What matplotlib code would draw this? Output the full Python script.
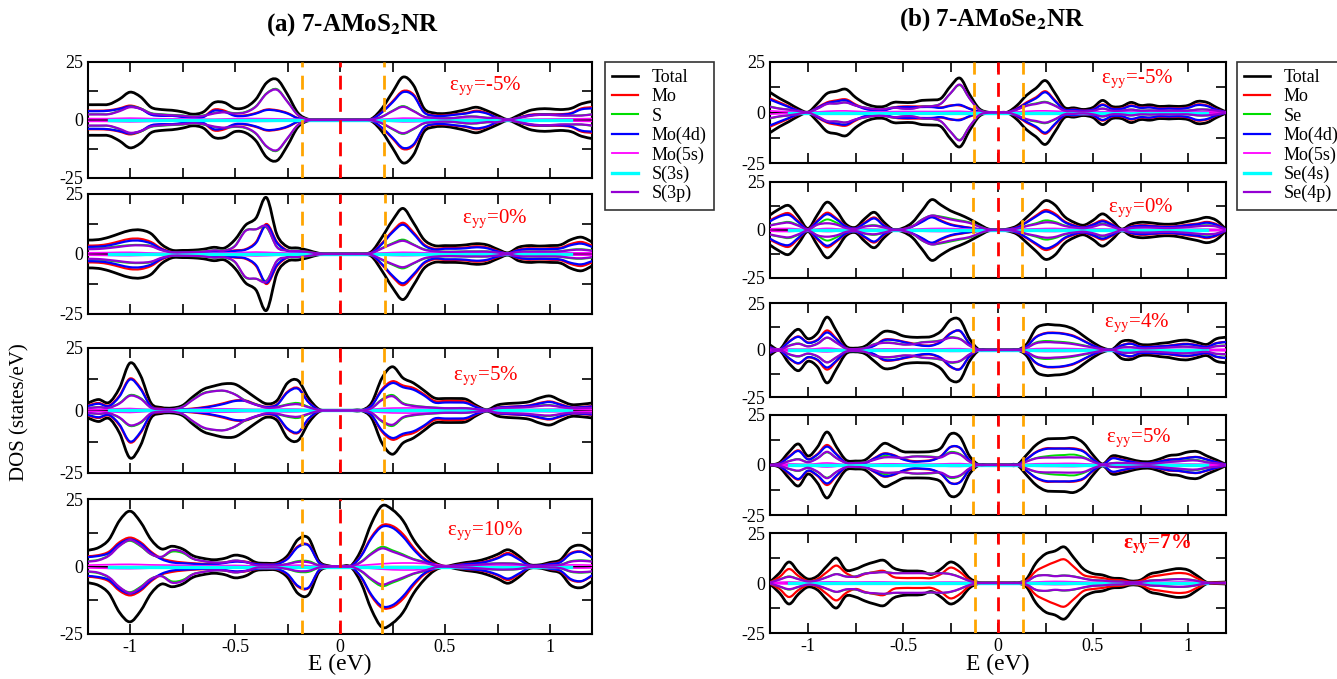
import numpy as np
import matplotlib
matplotlib.use("Agg")
import matplotlib.pyplot as plt
from matplotlib.lines import Line2D
from matplotlib.path import Path
from matplotlib.patches import PathPatch

plt.rcParams['font.family'] = ['Liberation Serif', 'DejaVu Serif']
plt.rcParams['mathtext.fontset'] = 'stix'

# energy grid (eV) of the read-off values, 0.05 eV steps
energy = np.linspace(-1.2, 1.2, 49)
# coarser grid for the small Mo(5s) curve
energy_c = np.linspace(-1.2, 1.2, 25)

# ---------------- (a) 7-AMoS2NR ----------------
# eps_yy = -5%
a1_total = [6.6, 6.6, 6.8, 9, 12, 10, 5.5, 4.5, 4.2, 3.5,
            2.5, 3.5, 7.5, 7.5, 5, 5.5, 9, 16, 17.5, 11,
            3, 0.3, 0, 0, 0, 0, 0, 0.5, 5, 12,
            18.5, 15, 5, 3, 2.8, 3.5, 4.5, 5.5, 4, 2,
            0.2, 2, 4, 4.8, 4.8, 4.5, 5, 7, 8]
a1_mo = [4, 4, 4.2, 5, 6.2, 5, 2.5, 2, 2, 1.5,
         1, 1.5, 4.5, 4, 2, 2, 3, 4.5, 4.2, 3,
         0.8, 0.1, 0, 0, 0, 0, 0, 0.3, 3.5, 8,
         12.5, 11, 3.5, 2, 2, 2.5, 3, 4, 3, 1,
         0.1, 1, 2.2, 2.5, 2.5, 2.5, 3, 5, 5.5]
a1_mo4d = [3.8, 3.8, 4, 4.8, 5.8, 4.8, 2.3, 1.8, 1.8, 1.3,
           0.9, 1.3, 4, 3.5, 1.8, 1.8, 2.8, 4.3, 4, 2.8,
           0.7, 0.1, 0, 0, 0, 0, 0, 0.3, 3.3, 7.6,
           12, 10.5, 3.3, 1.8, 1.8, 2.3, 2.8, 3.6, 2.8, 0.9,
           0.1, 0.9, 2, 2.3, 2.3, 2.3, 2.8, 4.6, 5]
a1_s = [2.5, 2.5, 2.6, 4, 5.8, 5, 3, 2.5, 2.2, 2,
        1.5, 2, 3, 3.5, 3, 3.5, 6, 11.5, 13.3, 8,
        2.2, 0.2, 0, 0, 0, 0, 0, 0.2, 1.5, 4,
        6, 4, 1.5, 1, 0.8, 1, 1.5, 1.5, 1, 1,
        0.1, 1, 1.8, 2.3, 2.3, 2, 2, 2, 2.5]
a1_sp = [2.4, 2.4, 2.5, 3.8, 5.5, 4.8, 2.8, 2.3, 2, 1.8,
         1.4, 1.8, 2.8, 3.3, 2.8, 3.3, 5.8, 11.3, 13, 7.8,
         2.1, 0.2, 0, 0, 0, 0, 0, 0.2, 1.4, 3.8,
         5.7, 3.8, 1.4, 0.9, 0.7, 0.9, 1.4, 1.4, 0.9, 0.9,
         0.1, 0.9, 1.7, 2.2, 2.2, 1.9, 1.9, 1.9, 2.4]
a1_mo5s = [0.6, 0.6, 0.8, 0.6, 0.5, 0.4, 0.3, 0.6, 0.6, 0.5, 0.3, 0, 0,
           0, 0.3, 0.8, 0.6, 0.4, 0.3, 0.2, 0.2, 0.3, 0.4, 0.5, 0.6]

# eps_yy = 0%
a2_total = [5.8, 6, 7, 8.5, 9.8, 10, 8.5, 4, 1.6, 1.5,
            1.6, 2, 2.8, 2.5, 6, 12, 15, 23.5, 8, 3,
            2.5, 1.5, 0.3, 0, 0, 0, 0, 1, 7, 14,
            19, 13, 6, 3.5, 3.5, 3.5, 3.8, 4.3, 3.8, 2,
            0.5, 2.8, 3.5, 3.3, 3.5, 3.8, 6, 7, 5]
a2_mo = [3.5, 3.6, 4.2, 5.3, 6.3, 6.3, 5, 2.3, 0.8, 0.7,
         0.7, 0.9, 1.2, 1, 1.5, 2, 5, 12.5, 5, 1.5,
         1, 0.6, 0.1, 0, 0, 0, 0, 0.6, 4.5, 9.5,
         13, 9, 4, 2.2, 2.5, 2.5, 2.7, 3.2, 2.7, 1.3,
         0.3, 1.8, 2.4, 2.2, 2.4, 2.6, 4.2, 5, 3.5]
a2_mo4d = [3, 3.1, 3.6, 4.6, 5.5, 5.5, 4.4, 2, 0.7, 0.6,
           0.6, 0.8, 1, 0.9, 1.3, 1.8, 4.6, 12, 4.6, 1.3,
           0.9, 0.5, 0.1, 0, 0, 0, 0, 0.5, 4.2, 9,
           12.2, 8.4, 3.6, 1.9, 2.2, 2.2, 2.4, 2.8, 2.4, 1.1,
           0.3, 1.6, 2.1, 2, 2.1, 2.3, 3.7, 4.3, 3]
a2_s = [2.3, 2.4, 2.8, 3.3, 3.7, 3.8, 3.4, 1.7, 0.8, 0.8,
        0.9, 1.1, 1.6, 1.5, 3.5, 9.8, 10.3, 11, 3, 1.5,
        1.4, 0.9, 0.2, 0, 0, 0, 0, 0.4, 2.5, 4.5,
        6, 4, 2, 1.3, 1, 1, 1.1, 1.1, 1.1, 0.7,
        0.2, 1, 1.1, 1.1, 1.1, 1.2, 1.8, 2, 1.5]
a2_sp = [2, 2.1, 2.5, 3, 3.5, 3.6, 3.2, 1.6, 0.7, 0.7,
         0.8, 1, 1.5, 1.4, 3.3, 9.6, 10.3, 11.4, 2.8, 1.4,
         1.3, 0.8, 0.2, 0, 0, 0, 0, 0.4, 2.3, 4.2,
         5.5, 3.8, 1.8, 1.1, 0.9, 0.9, 1, 1, 1, 0.6,
         0.2, 0.9, 1, 1, 1, 1.1, 1.6, 1.8, 1.3]
a2_mo5s = [0.5, 0.6, 0.7, 0.4, 0.2, 0.2, 0.3, 0.5, 0.8, 0.5, 0.3, 0, 0,
           0, 0.4, 0.7, 0.5, 0.4, 0.4, 0.4, 0.2, 0.4, 0.4, 0.5, 0.5]

# eps_yy = 5%
a3_total = [3, 4.4, 3.2, 9, 19, 14, 3, 1.2, 1, 2,
            5.5, 8.5, 9.8, 10.7, 10.5, 8, 5, 2.7, 4, 11,
            12, 5, 0.5, 0, 0, 0, 0, 3, 13, 17.5,
            13, 11, 8, 5, 4.8, 4.8, 4.5, 2, 0.3, 2.2,
            2.8, 3, 3.5, 5, 5.8, 4, 2.4, 2.5, 3]
a3_mo = [2, 3, 2, 6, 12.8, 9, 1.8, 0.7, 0.5, 0.5,
         0.8, 1.3, 2, 3, 4, 4, 2.5, 1.5, 2.5, 7.5,
         9, 3.5, 0.3, 0, 0, 0, 0, 2, 8.5, 11.7,
         10, 9, 6.5, 3.8, 3.8, 3.8, 3.5, 1.5, 0.2, 1.2,
         1.5, 1.7, 2, 3, 3.6, 2.5, 1.3, 1.4, 1.8]
a3_mo4d = [1.8, 2.7, 1.8, 5.6, 12.4, 8.6, 1.6, 0.6, 0.4, 0.4,
           0.6, 1.1, 1.8, 2.7, 3.8, 3.8, 2.3, 1.4, 2.3, 7.2,
           8.7, 3.3, 0.3, 0, 0, 0, 0, 1.9, 8, 11,
           9.3, 8.3, 6, 3.2, 3.2, 3.2, 3, 1.3, 0.2, 1.1,
           1.4, 1.6, 1.9, 2.8, 3.4, 2.3, 1.2, 1.3, 1.6]
a3_s = [1, 1.4, 1.2, 3, 6.2, 5, 1.2, 0.5, 0.5, 1.5,
        4.5, 7, 7.8, 7.8, 6.5, 4, 2.5, 1.2, 1.5, 2.5,
        3, 1.5, 0.2, 0, 0, 0, 0, 1, 4.5, 6.2,
        3, 2, 1.5, 1.2, 1, 1, 1, 0.5, 0.1, 1,
        1.2, 1.3, 1.5, 2, 2.2, 1.5, 1, 1.1, 1.2]
a3_sp = [0.9, 1.3, 1.1, 2.8, 5.9, 4.7, 1.1, 0.5, 0.5, 1.4,
         4.3, 6.8, 7.7, 7.9, 6.4, 3.8, 2.3, 1.1, 1.3, 2.2,
         2.5, 1.3, 0.2, 0, 0, 0, 0, 0.9, 4.2, 5.7,
         2.7, 1.8, 1.4, 1.1, 0.9, 0.9, 0.9, 0.5, 0.1, 0.9,
         1.1, 1.2, 1.4, 1.8, 2, 1.4, 0.9, 1, 1.1]
a3_mo5s = [0.4, 0.5, 0.8, 0.3, 0.2, 0.5, 0.7, 0.6, 0.4, 0.5, 0.5, 0, 0,
           0, 0.8, 1, 1, 0.9, 0.6, 0.3, 0.4, 0.4, 0.5, 0.5, 0.4]

# eps_yy = 10%
a4_total = [6, 7, 10, 17, 20.5, 16.5, 10, 6.5, 7.5, 6.5,
            4, 3, 2.5, 3, 4.2, 3.5, 1.5, 1.2, 1.4, 4,
            10, 10.5, 2, 0.2, 0, 0.1, 6, 16, 22.5, 21,
            17, 10, 5, 1.5, 0.1, 0.8, 1.5, 2, 3, 4.5,
            6.2, 4, 0.8, 0.6, 1.5, 2.5, 7, 7.8, 5.5]
a4_mo = [3.8, 4.2, 5.5, 9, 10.7, 9, 5.5, 3, 2, 1.5,
         1.2, 1, 1, 1.5, 2, 1.8, 1, 0.8, 1, 3,
         7.5, 8, 1.5, 0.1, 0, 0.1, 4, 11, 15.3, 15,
         12, 7, 3, 1, 0.1, 0.5, 1, 1.3, 2, 3.3,
         5, 3, 0.5, 0.4, 1, 1.8, 5, 5.5, 3.5]
a4_mo4d = [3.5, 3.9, 5, 8.4, 10, 8.5, 5.1, 2.7, 1.5, 1.2,
           1, 0.8, 0.8, 1.3, 1.8, 1.6, 0.9, 0.7, 0.9, 2.8,
           7.2, 7.8, 1.4, 0.1, 0, 0.1, 3.8, 10.5, 14.7, 14.3,
           11, 6.3, 2.6, 0.8, 0.1, 0.4, 0.9, 1.2, 1.8, 3,
           4.5, 2.7, 0.5, 0.4, 0.9, 1.6, 4.7, 5.4, 3.3]
a4_s = [2, 2.5, 4.2, 7.8, 9.5, 7.5, 4.5, 3.5, 5.5, 5,
        2.8, 2, 1.5, 1.5, 2.2, 1.7, 0.5, 0.4, 0.4, 1,
        2, 2, 0.5, 0.1, 0, 0, 1.8, 5, 7.3, 6,
        4.5, 2.8, 1.8, 0.5, 0, 0.3, 0.5, 0.7, 1, 1.2,
        1.2, 1, 0.3, 0.2, 0.5, 0.7, 2, 2.3, 2]
a4_sp = [1.8, 2.3, 4, 7.6, 9.8, 7.8, 4.6, 3.6, 6, 5.4,
         2.9, 2, 1.5, 1.5, 2.2, 1.7, 0.5, 0.4, 0.4, 0.9,
         1.7, 1.6, 0.4, 0.1, 0, 0, 1.6, 4.6, 6.7, 5.5,
         4.1, 2.6, 1.6, 0.4, 0, 0.3, 0.4, 0.6, 0.9, 1.1,
         1.1, 0.9, 0.3, 0.2, 0.4, 0.6, 1.8, 2.1, 1.8]
a4_mo5s = [0.5, 0.7, 0.8, 0.6, 0.5, 0.3, 0.3, 0.4, 0.2, 0.2, 0.5, 0, 0,
           0.4, 1, 1.3, 1.1, 0.3, 0.3, 0.5, 0.5, 0.3, 0.3, 0.6, 0.5]

# ---------------- (b) 7-AMoSe2NR ----------------
# eps_yy = -5%
b1_total = [10, 7, 4.5, 1.8, 0.2, 4.5, 9.4, 10.5, 11.5, 7.5,
            4.5, 3, 3, 5, 5, 5, 6, 6.2, 7, 13,
            17, 9, 2, 0.1, 0, 0.2, 3.5, 8.5, 12, 15.8,
            9.5, 2.5, 2.3, 1.5, 2.5, 6, 3, 3, 5, 3.5,
            3.8, 3, 3.2, 3, 3.5, 5.5, 5, 2.5, 0.3]
b1_mo = [7, 5, 3, 1, 0.1, 2.5, 5, 6, 6.5, 4,
         2, 1.2, 1.2, 2.5, 3, 3, 3, 3, 2.5, 3.5,
         3.5, 2, 0.5, 0, 0, 0.1, 2, 5, 7.5, 10.5,
         6, 1.5, 1.5, 1, 1.5, 4, 2, 2, 3.5, 2.5,
         2.7, 2, 2.2, 2, 2.5, 4, 3.5, 1.5, 0.2]
b1_mo4d = [6.4, 4.5, 2.7, 0.9, 0.1, 2.3, 4.6, 5.5, 6, 3.6,
           1.8, 1.1, 1.1, 2.3, 2.7, 2.7, 2.7, 2.7, 2.3, 3.3,
           3.8, 1.8, 0.4, 0, 0, 0.1, 1.8, 4.6, 7, 10,
           5.6, 1.4, 1.4, 0.9, 1.4, 3.7, 1.8, 1.8, 3.2, 2.3,
           2.5, 1.8, 2, 1.8, 2.3, 3.7, 3.2, 1.4, 0.2]
b1_se = [3, 2, 1.5, 0.8, 0.1, 2, 4.4, 4.5, 5, 3.5,
         2.5, 1.8, 1.8, 2.5, 2, 2, 3, 3.2, 4.5, 9.5,
         13.5, 7, 1.5, 0.1, 0, 0.1, 1.5, 3.5, 4.5, 5.3,
         3.5, 1, 0.8, 0.5, 1, 2, 1, 1, 1.5, 1,
         1.1, 1, 1, 1, 1, 1.5, 1.5, 1, 0.1]
b1_sep = [2.8, 1.9, 1.4, 0.7, 0.1, 1.9, 4.2, 4.4, 4.9, 3.4,
          2.4, 1.7, 1.7, 2.4, 1.9, 1.9, 2.9, 3.1, 4.4, 9.5,
          13.8, 7, 1.4, 0.1, 0, 0.1, 1.4, 3.3, 4.2, 5,
          3.3, 0.9, 0.7, 0.5, 0.9, 1.9, 0.9, 0.9, 1.4, 0.9,
          1, 0.9, 0.9, 0.9, 0.9, 1.4, 1.4, 0.9, 0.1]
b1_mo5s = [0.8, 0.4, 0.1, 0.6, 0.8, 0.4, 0.4, 0.5, 0.5, 0.5, 0.6, 0.1, 0,
           0.3, 0.8, 0.7, 0.3, 0.4, 0.4, 0.4, 0.3, 0.3, 0.3, 0.4, 0.1]

# eps_yy = 0%
b2_total = [7.8, 11, 12.7, 7, 0.8, 8, 14.5, 10, 3, 1.4,
            6, 9.2, 4, 0.2, 1, 4, 10, 15.8, 13, 10,
            8, 5.7, 3, 0.5, 0, 0.5, 2.2, 6.5, 11, 15.3,
            13, 7, 4, 2.5, 5, 8.4, 5, 0.5, 3, 4,
            3.8, 3.2, 3, 3.5, 4.5, 5.5, 6.6, 5, 0.3]
b2_mo = [5, 7.5, 8.7, 4.5, 0.5, 5, 9, 6, 2, 0.9,
         4, 6.5, 2.5, 0.2, 0.5, 2, 4.5, 7, 5, 3,
         2, 1.2, 0.5, 0.2, 0, 0.3, 1.5, 4.2, 7.5, 10.4,
         8.5, 4.5, 2.5, 1.5, 3, 5, 3, 0.3, 1.8, 2.5,
         2.3, 1.9, 1.8, 2.1, 2.8, 3.3, 4.2, 3, 0.2]
b2_mo4d = [4.5, 7, 7.8, 4, 0.4, 4.5, 8.2, 5.5, 1.8, 0.8,
           3.6, 6, 2.2, 0.2, 0.4, 1.8, 4.2, 6.6, 4.6, 2.7,
           1.8, 1.1, 0.4, 0.2, 0, 0.3, 1.3, 3.9, 7, 9.6,
           7.8, 4.1, 2.2, 1.3, 2.7, 4.5, 2.7, 0.3, 1.6, 2.2,
           2, 1.7, 1.6, 1.9, 2.5, 3, 3.8, 2.7, 0.2]
b2_se = [2.5, 3.5, 4.2, 2.5, 0.3, 3, 5.5, 3.8, 1.2, 0.6,
         2, 2.5, 1.5, 0.1, 0.4, 2, 5.5, 7.5, 7, 6,
         5, 4, 2, 0.3, 0, 0.2, 0.8, 2.2, 3.5, 5,
         4.2, 2.4, 1.5, 1, 2, 3.3, 2, 0.2, 1.2, 1.5,
         1.5, 1.3, 1.2, 1.4, 1.7, 2.2, 2.5, 2, 0.1]
b2_sep = [2.3, 3.3, 3.8, 2.2, 0.3, 2.8, 3.5, 2.8, 1, 0.5,
          1.8, 2.2, 1.3, 0.1, 0.4, 1.9, 5.3, 7.5, 6.6, 5.5,
          4.6, 3.7, 1.8, 0.3, 0, 0.2, 0.7, 2, 3, 4,
          3.6, 2.1, 1.3, 0.9, 1.7, 2.9, 1.7, 0.2, 1, 1.3,
          1.3, 1.1, 1, 1.2, 1.5, 1.9, 2.2, 1.8, 0.1]
b2_mo5s = [0.6, 0.8, 0.1, 0.8, 0.3, 0.5, 0.2, 0.1, 0.6, 0.8, 0.6, 0.3, 0,
           0.3, 0.6, 0.8, 0.4, 0.5, 0.4, 0.3, 0.3, 0.3, 0.3, 0.4, 0.1]

# eps_yy = 4%
b3_total = [2.7, 0.3, 7, 11, 6, 9, 17.5, 10, 2, 1,
            2, 6, 9.8, 9.5, 7.5, 6.8, 6.8, 7.2, 10, 16,
            16, 6, 0.2, 0, 0, 0, 0, 3, 11.5, 13.5,
            13.3, 12.8, 11, 7.5, 4, 1.2, 0.3, 4.5, 5, 3,
            2.8, 3.5, 4, 5, 5.2, 4, 3, 6, 6.8]
b3_mo = [1.5, 0.2, 4.5, 7.2, 4, 5.5, 10.4, 6, 1, 0.4,
         0.8, 2.5, 5.5, 5.5, 4.5, 3.5, 2.5, 2.5, 4.5, 9,
         10, 3.5, 0.1, 0, 0, 0, 0, 2, 7, 9,
         9.2, 8.7, 7.5, 5, 2.5, 0.7, 0.2, 2.5, 3.5, 1.8,
         1.7, 2, 2.3, 3, 3.3, 2.5, 1.8, 3.7, 4.3]
b3_mo4d = [1.4, 0.2, 4.3, 7, 3.8, 5.2, 9.3, 5.6, 0.9, 0.4,
           0.7, 2.3, 5.2, 5.3, 4.3, 3.2, 2.3, 2.3, 4.2, 8.7,
           10.2, 3.3, 0.1, 0, 0, 0, 0, 1.9, 6.8, 8.8,
           9, 8.5, 7.2, 4.8, 2.4, 0.6, 0.2, 2.4, 3.3, 1.7,
           1.6, 1.9, 2.2, 2.8, 3.1, 2.4, 1.7, 3.6, 4.2]
b3_se = [1, 0.1, 2.4, 3.5, 2, 3.5, 6.5, 4, 0.9, 0.5,
         1.1, 3.2, 4, 3.8, 3, 3.2, 4.2, 4.5, 5.2, 6.8,
         6, 2.4, 0.1, 0, 0, 0, 0, 1.2, 4, 4.8,
         4.5, 4.2, 3.5, 2.5, 1.5, 0.4, 0.1, 1.4, 1.6, 1,
         1, 1.2, 1.5, 1.8, 1.8, 1.4, 1.1, 2.2, 2.4]
b3_sep = [0.9, 0.1, 2.2, 3.3, 1.9, 3.3, 6.6, 3.8, 0.8, 0.5,
          1, 3, 3.8, 3.6, 2.9, 3, 4, 4.3, 5, 6.5,
          5.8, 2.3, 0.1, 0, 0, 0, 0, 1.1, 3.6, 4.2,
          4, 3.7, 3.1, 2.2, 1.3, 0.4, 0.1, 1.3, 1.5, 0.9,
          0.9, 1.1, 1.4, 1.7, 1.7, 1.3, 1, 2, 2.2]
b3_mo5s = [0.3, 0.5, 0.4, 1, 0.1, 0.2, 0.6, 0.5, 0.4, 0.6, 0.7, 0, 0,
           0, 0.7, 0.8, 0.7, 0.3, 0.1, 0.3, 0.2, 0.3, 0.3, 0.2, 0.4]

# eps_yy = 5%
b4_total = [0, 1.2, 6.5, 10.5, 4.5, 9, 16.5, 9, 2.5, 2,
            2.5, 6.5, 10.8, 9, 6.7, 6.5, 6.5, 6.8, 8.5, 15.5,
            14, 4.5, 0.1, 0, 0, 0, 0, 5, 10, 12.8,
            13.2, 13.3, 13.7, 11, 5, 0.5, 4.5, 4, 2.8, 1.8,
            1.7, 3, 4.7, 5.2, 6.5, 6.7, 4.5, 2.5, 0.3]
b4_mo = [0, 0.8, 4.3, 7.3, 3, 5.5, 10, 5.5, 1.2, 0.8,
         1, 3.5, 5.8, 5, 3, 2, 2, 2.5, 4.5, 9,
         8.5, 2.5, 0.1, 0, 0, 0, 0, 3, 6.5, 8.3,
         8.3, 8.3, 8.3, 7, 3, 0.3, 3.5, 2.8, 1.8, 1,
         1, 1.8, 2.8, 3, 3.7, 4, 2.8, 1.5, 0.2]
b4_mo4d = [0, 0.7, 4, 7, 2.8, 5.2, 9.2, 5.2, 1.1, 0.7,
           0.9, 3.3, 5.6, 4.8, 2.8, 1.7, 1.8, 2.3, 4.3, 9,
           8.6, 2.4, 0.1, 0, 0, 0, 0, 2.9, 6.3, 8,
           8.2, 8.2, 8, 6.7, 2.8, 0.3, 3.3, 2.6, 1.7, 0.9,
           0.9, 1.7, 2.6, 2.9, 3.6, 3.9, 2.7, 1.4, 0.2]
b4_se = [0, 0.4, 2, 3, 1.5, 3.5, 6.3, 3.5, 1.2, 1.1,
         1.4, 2.8, 4.5, 4, 3.5, 4.3, 4.4, 4.2, 4, 6.5,
         5.5, 1.8, 0, 0, 0, 0, 0, 1.8, 3.5, 4.3,
         4.8, 5, 5.2, 4, 1.8, 0.2, 1, 1.1, 1, 0.8,
         0.7, 1.1, 1.7, 2, 2.5, 2.5, 1.5, 1, 0.1]
b4_sep = [0, 0.4, 1.9, 2.8, 1.4, 3.3, 6.6, 3.4, 1.1, 1,
          1.3, 2.6, 3.8, 3.8, 3.6, 4.2, 4.2, 4, 3.8, 6,
          5.2, 1.7, 0, 0, 0, 0, 0, 1.7, 3.3, 3.7,
          3.7, 3.8, 3.8, 3.5, 1.6, 0.2, 0.9, 1, 0.9, 0.7,
          0.6, 1, 1.5, 1.8, 2.2, 2.2, 1.3, 0.9, 0.1]
b4_mo5s = [0, 0.5, 0.3, 1, 0.2, 0.2, 0.6, 0.5, 0.3, 0.5, 0.7, 0, 0,
           0, 0.6, 0.7, 0.8, 0.4, 0.3, 0.2, 0.2, 0.3, 0.4, 0.3, 0.1]

# eps_yy = 7% (no Mo(4d) curve in this panel)
b5_total = [0.5, 5, 10.5, 5.5, 2, 3.5, 8.5, 12.5, 6.5, 7,
            9, 10.5, 11.3, 7.5, 6.2, 6, 5.8, 4.3, 7, 10.5,
            8, 2.5, 0.2, 0, 0, 0, 0, 2, 10, 14.5,
            16, 18, 12.5, 7, 4.7, 4, 2.5, 2.2, 1, 1.5,
            4.5, 5.5, 6.5, 7.2, 6.5, 3.5, 0.3, 0.3, 0.5]
b5_mo = [0.3, 3, 7, 3.5, 1, 2, 5.5, 8.7, 5, 3,
         4.5, 5.5, 6, 3, 2.5, 2.5, 2.5, 2.5, 4.5, 7.7,
         5.5, 1.5, 0.1, 0, 0, 0, 0, 1.2, 6, 8.5,
         10.5, 11.8, 8, 4, 3, 2.5, 1.6, 1.4, 0.6, 1,
         3, 3.8, 4.5, 5, 4.5, 2.3, 0.2, 0.2, 0.3]
b5_se = [0.2, 1.8, 3.3, 2, 0.8, 1.4, 3, 4.5, 3.3, 3.3,
         4.8, 5.2, 5.5, 5, 5, 5, 5, 4.8, 5, 4.5,
         3, 1, 0.1, 0, 0, 0, 0, 0.8, 3.5, 4,
         3.5, 3.8, 3.3, 2.3, 1.5, 1.3, 0.8, 0.7, 0.4, 0.5,
         1.3, 1.5, 1.8, 2, 1.8, 1.1, 0.1, 0.1, 0.2]
b5_sep = [0.2, 1.7, 3.1, 1.9, 0.8, 1.3, 2.9, 4.4, 3.2, 3.2,
          4.7, 5.1, 5.4, 4.9, 4.9, 4.9, 4.9, 4.7, 4.9, 4.4,
          2.9, 1, 0.1, 0, 0, 0, 0, 0.8, 3.4, 3.9,
          3.4, 3.7, 3.2, 2.2, 1.4, 1.2, 0.8, 0.7, 0.4, 0.5,
          1.2, 1.4, 1.7, 1.9, 1.7, 1, 0.1, 0.1, 0.2]
b5_mo5s = [0.1, 0.5, 0.2, 0.6, 0.4, 0.5, 0.5, 0.3, 0.3, 0.4, 0.4, 0, 0,
           0, 0.5, 0.8, 0.6, 0.3, 0.2, 0.1, 0.3, 0.4, 0.5, 0.1, 0.1]

# band edges (eV) and strain labels
left_strain = ['-5%', '0%', '5%', '10%']
left_vbm = [-0.18, -0.18, -0.18, -0.18]
left_cbm = [0.21, 0.215, 0.21, 0.20]
right_strain = ['-5%', '0%', '4%', '5%', '7%']
right_vbm = [-0.127, -0.13, -0.13, -0.13, -0.122]
right_cbm = [0.129, 0.125, 0.13, 0.13, 0.131]
s3s_span = [-1.1, 1.1]   # extent of the flat S(3s)/Se(4s) curve

left_names = ['Total', 'Mo', 'S', 'Mo(4d)', 'Mo(5s)', 'S(3s)', 'S(3p)']
right_names = ['Total', 'Mo', 'Se', 'Mo(4d)', 'Mo(5s)', 'Se(4s)', 'Se(4p)']
colors = ['black', '#ff0000', '#00dd00', '#0000ff', '#ff00ff', '#00ffff', '#9400d3']

left_panels = [
    (a1_total, a1_mo, a1_s, a1_mo4d, a1_mo5s, a1_sp),
    (a2_total, a2_mo, a2_s, a2_mo4d, a2_mo5s, a2_sp),
    (a3_total, a3_mo, a3_s, a3_mo4d, a3_mo5s, a3_sp),
    (a4_total, a4_mo, a4_s, a4_mo4d, a4_mo5s, a4_sp),
]
right_panels = [
    (b1_total, b1_mo, b1_se, b1_mo4d, b1_mo5s, b1_sep),
    (b2_total, b2_mo, b2_se, b2_mo4d, b2_mo5s, b2_sep),
    (b3_total, b3_mo, b3_se, b3_mo4d, b3_mo5s, b3_sep),
    (b4_total, b4_mo, b4_se, b4_mo4d, b4_mo5s, b4_sep),
    (b5_total, b5_mo, b5_se, None, b5_mo5s, b5_sep),
]

# axes rectangles in figure fractions
W, H = 1337, 679
def rect(x0, x1, top, bot):
    return [x0 / W, 1 - bot / H, (x1 - x0) / W, (bot - top) / H]

left_rects = [rect(88, 592, 62, 178), rect(88, 592, 194, 314),
              rect(88, 592, 348, 473), rect(88, 592, 499, 634)]
right_rects = [rect(770, 1226, 62, 163), rect(770, 1226, 182, 278),
               rect(770, 1226, 303, 397), rect(770, 1226, 415, 515),
               rect(770, 1226, 533, 633)]
left_label_pos = [(0.52, 14.3), (0.58, 14.5), (0.54, 13.7), (0.51, 13)]
right_label_pos = [(0.54, 16.5), (0.58, 11.3), (0.56, 14), (0.57, 13.3), (0.66, 19.5)]

fig = plt.figure(figsize=(13.37, 6.79), dpi=100)


def smooth(ax, x, y, color, lw, z):
    # draw the read-off points joined by a smooth (Catmull-Rom) Bezier path
    pts = np.column_stack([x, y])
    n = len(pts)
    verts = [pts[0]]
    codes = [Path.MOVETO]
    for i in range(n - 1):
        p0 = pts[i - 1] if i > 0 else pts[i]
        p1, p2 = pts[i], pts[i + 1]
        p3 = pts[i + 2] if i + 2 < n else pts[i + 1]
        verts += [p1 + (p2 - p0) / 6, p2 - (p3 - p1) / 6, p2]
        codes += [Path.CURVE4] * 3
    ax.add_patch(PathPatch(Path(verts, codes), fill=False, edgecolor=color,
                           lw=lw, zorder=z, capstyle='round', joinstyle='round'))


def draw_panel(r, curves, vbm, cbm, strain, lab_pos, bottom, bold=False):
    ax = fig.add_axes(r)
    total, mo, s, mo4d, mo5s, sp = curves
    ax.axhline(0, color='black', lw=1.6, zorder=1)
    for sign in (1, -1):
        smooth(ax, energy, sign * np.array(total), colors[0], 2.0, 2)
        smooth(ax, energy, sign * np.array(mo), colors[1], 1.6, 3)
        smooth(ax, energy, sign * np.array(s), colors[2], 1.4, 4)
        if mo4d is not None:
            smooth(ax, energy, sign * np.array(mo4d), colors[3], 1.6, 5)
        smooth(ax, energy_c, sign * np.array(mo5s), colors[4], 1.2, 6)
        smooth(ax, energy, sign * np.array(sp), colors[6], 1.6, 8)
    ax.plot(s3s_span, [0, 0], color=colors[5], lw=2.4, zorder=7)
    ax.axvline(0, color='#ff0000', lw=2, dashes=(5, 3), zorder=9)
    ax.axvline(vbm, color='#ffa500', lw=2, dashes=(5, 3), zorder=9)
    ax.axvline(cbm, color='#ffa500', lw=2, dashes=(5, 3), zorder=9)
    ax.set_xlim(-1.2, 1.2)
    ax.set_ylim(-25, 25)
    ax.set_xticks([-1, -0.5, 0, 0.5, 1])
    ax.set_xticks([-0.75, -0.25, 0.25, 0.75], minor=True)
    ax.set_yticks([-25, 0, 25])
    ax.set_yticklabels(['-25', '0', '25'], fontsize=13)
    ax.set_yticks([-12.5, 12.5], minor=True)
    if bottom:
        ax.set_xticklabels(['-1', '-0.5', '0', '0.5', '1'], fontsize=13)
    else:
        ax.set_xticklabels([])
    ax.tick_params(which='both', direction='in', top=True, right=True,
                   length=7, width=1.2)
    for sp_ in ax.spines.values():
        sp_.set_linewidth(1.5)
    if bold:
        txt = 'ε$_{\\mathbf{yy}}$=' + strain
    else:
        txt = 'ε$_{\\mathrm{yy}}$=' + strain
    ax.text(lab_pos[0], lab_pos[1], txt, color='#ff0000', fontsize=15,
            ha='left', va='center', fontweight='bold' if bold else 'normal',
            zorder=10)
    return ax


for i in range(4):
    draw_panel(left_rects[i], left_panels[i], left_vbm[i], left_cbm[i],
               left_strain[i], left_label_pos[i], i == 3)
for i in range(5):
    draw_panel(right_rects[i], right_panels[i], right_vbm[i], right_cbm[i],
               right_strain[i], right_label_pos[i], i == 4, bold=(i == 4))

# legends
def handles(names):
    lw = [1.9, 1.6, 1.5, 1.6, 1.3, 2.4, 1.6]
    return [Line2D([], [], color=c, lw=w, label=n) for c, w, n in zip(colors, lw, names)]

for names, x0 in ((left_names, 605 / W), (right_names, 1237 / W)):
    leg = fig.legend(handles=handles(names), loc='upper left',
                     bbox_to_anchor=(x0, 1 - 62 / H), fontsize=13,
                     frameon=True, fancybox=False, edgecolor='black',
                     handlelength=1.4, handletextpad=0.8, labelspacing=0.12,
                     borderpad=0.4, borderaxespad=0)
    leg.get_frame().set_linewidth(1.2)

# titles and axis labels
fig.text(352 / W, 1 - 25 / H, r'(a) 7-AMoS$_{\mathbf{2}}$NR', fontsize=18,
         fontweight='bold', ha='center', va='center')
fig.text(992 / W, 1 - 20 / H, r'(b) 7-AMoSe$_{\mathbf{2}}$NR', fontsize=18,
         fontweight='bold', ha='center', va='center')
fig.text(20 / W, 1 - 412 / H, 'DOS (states/eV)', fontsize=15, rotation=90,
         ha='center', va='center')
fig.text(340 / W, 1 - 664 / H, 'E (eV)', fontsize=17, ha='center', va='center')
fig.text(998 / W, 1 - 664 / H, 'E (eV)', fontsize=17, ha='center', va='center')

fig.savefig('out.png', dpi=100)
